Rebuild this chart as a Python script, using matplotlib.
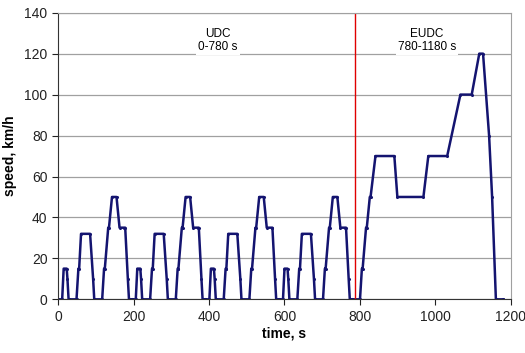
import numpy as np
import matplotlib.pyplot as plt

plt.rcParams['font.family'] = ['Liberation Sans', 'DejaVu Sans']

# one ECE-15 urban cycle (195 s), repeated four times -> UDC 0-780 s
ece_time = [0, 11, 15, 23, 25, 28, 49, 54, 56, 61, 85, 93, 96, 117, 122, 124,
            133, 135, 143, 155, 163, 176, 178, 185, 188, 195]
ece_speed = [0, 0, 15, 15, 10, 0, 0, 15, 15, 32, 32, 10, 0, 0, 15, 15,
             35, 35, 50, 50, 35, 35, 35, 10, 0, 0]
ece_repeats = 4
ece_length = 195

# extra-urban cycle, times relative to its start at 780 s
eudc_start = 780
eudc_time = [0, 20, 25, 27, 36, 38, 46, 48, 61, 111, 119, 188, 201, 251, 286,
             316, 336, 346, 362, 370, 380, 400]
eudc_speed = [0, 0, 15, 15, 35, 35, 50, 50, 70, 70, 50, 50, 70, 70, 100,
              100, 120, 120, 80, 50, 0, 0]

divider_time = 788

t = np.concatenate([np.array(ece_time) + k * ece_length for k in range(ece_repeats)]
                   + [np.array(eudc_time) + eudc_start])
v = np.concatenate([ece_speed] * ece_repeats + [eudc_speed])

fig = plt.figure(figsize=(5.25, 3.53), dpi=100)
ax = fig.add_axes([0.1105, 0.152, 0.8628, 0.812])

ax.set_axisbelow(True)
ax.yaxis.grid(True, color='#a0a0a0', linewidth=0.9)
ax.plot(t, v, color='#141470', linewidth=1.8, marker='o', markersize=1.2)
ax.axvline(divider_time, color='#e00000', linewidth=1.0)

ax.set_xlim(0, 1200)
ax.set_ylim(0, 140)
ax.set_xticks(range(0, 1201, 200))
ax.set_yticks(range(0, 141, 20))
ax.tick_params(labelsize=10, direction='out', length=4, colors='#222222')

for side in ('top', 'right'):
    ax.spines[side].set_color('#a0a0a0')
for side in ('left', 'bottom'):
    ax.spines[side].set_color('#333333')

ax.set_xlabel('time, s', fontsize=10, fontweight='bold', labelpad=2)
ax.set_ylabel('speed, km/h', fontsize=10, fontweight='bold', labelpad=5)

box = dict(facecolor='white', edgecolor='none', pad=1.5)
ax.text(424, 126.5, 'UDC\n0-780 s', ha='center', va='center', fontsize=8.5,
        linespacing=1.15, bbox=box)
ax.text(977, 126.5, 'EUDC\n780-1180 s', ha='center', va='center', fontsize=8.5,
        linespacing=1.15, bbox=box)

fig.savefig('out.png', dpi=100)
